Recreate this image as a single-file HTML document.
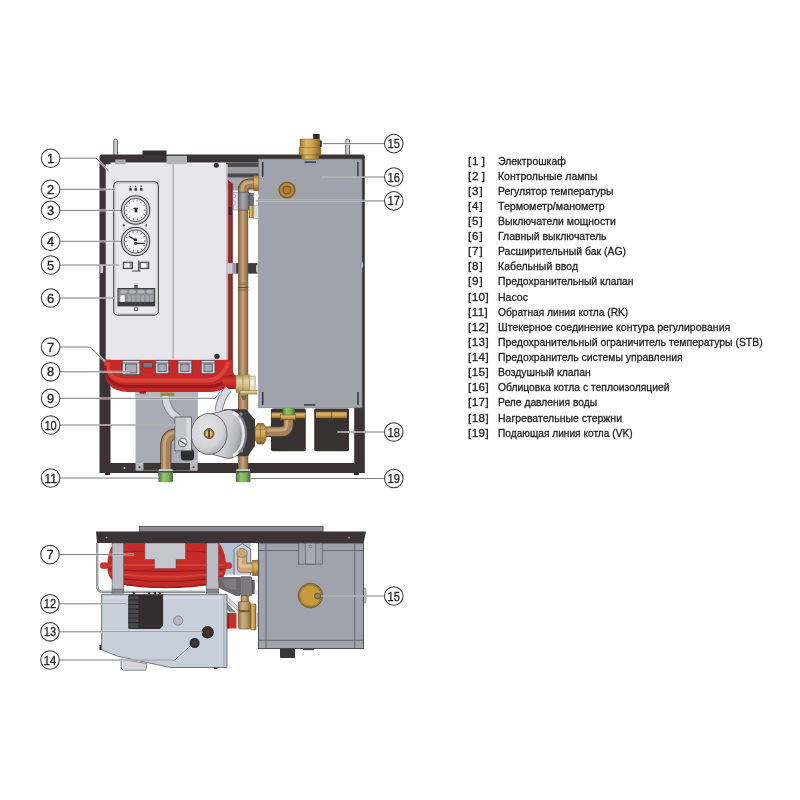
<!DOCTYPE html>
<html lang="ru"><head><meta charset="utf-8"><title>Схема котла</title>
<style>
html,body{margin:0;padding:0;background:#fff;}
body{width:800px;height:800px;position:relative;overflow:hidden;font-family:"Liberation Sans",sans-serif;}
svg{position:absolute;left:0;top:0;will-change:transform;}
.lg{will-change:transform;position:absolute;left:0;top:0;width:800px;height:800px;color:#1c1c1c;-webkit-text-stroke:0.3px #1c1c1c;font-size:11.6px;line-height:14px;}
.lg div{position:absolute;white-space:nowrap;height:14px;}
.lg span{display:inline-block;transform-origin:0 50%;white-space:nowrap;}
</style></head><body>
<svg width="800" height="800" viewBox="0 0 800 800" font-family="Liberation Sans, sans-serif">
<defs>
  <linearGradient id="cuV" x1="0" x2="1" y1="0" y2="0">
    <stop offset="0" stop-color="#6e5236"/><stop offset="0.12" stop-color="#9a7650"/><stop offset="0.45" stop-color="#c0a17a"/><stop offset="0.8" stop-color="#a0805a"/><stop offset="1" stop-color="#6a5238"/>
  </linearGradient>
  <linearGradient id="cuH" x1="0" x2="0" y1="0" y2="1">
    <stop offset="0" stop-color="#6e5236"/><stop offset="0.12" stop-color="#9a7650"/><stop offset="0.45" stop-color="#c0a17a"/><stop offset="0.8" stop-color="#a0805a"/><stop offset="1" stop-color="#6a5238"/>
  </linearGradient>
  <linearGradient id="brassV" x1="0" x2="1" y1="0" y2="0">
    <stop offset="0" stop-color="#9a7430"/><stop offset="0.3" stop-color="#dcb866"/><stop offset="0.6" stop-color="#cda351"/><stop offset="1" stop-color="#8a6626"/>
  </linearGradient>
  <linearGradient id="brassH" x1="0" x2="0" y1="0" y2="1">
    <stop offset="0" stop-color="#9a7430"/><stop offset="0.3" stop-color="#dcb866"/><stop offset="0.6" stop-color="#cda351"/><stop offset="1" stop-color="#8a6626"/>
  </linearGradient>
  <linearGradient id="greenV" x1="0" x2="1" y1="0" y2="0">
    <stop offset="0" stop-color="#47703f"/><stop offset="0.35" stop-color="#93c76e"/><stop offset="0.7" stop-color="#7aad58"/><stop offset="1" stop-color="#456b3f"/>
  </linearGradient>
  <linearGradient id="redU" x1="0" x2="0" y1="0" y2="1">
    <stop offset="0" stop-color="#b01d24"/><stop offset="0.5" stop-color="#d32a30"/><stop offset="1" stop-color="#8c161b"/>
  </linearGradient>
  <radialGradient id="pumpFace" cx="0.4" cy="0.35" r="0.7">
    <stop offset="0" stop-color="#e6e6e9"/><stop offset="0.7" stop-color="#d2d2d6"/><stop offset="1" stop-color="#a9aab0"/>
  </radialGradient>
  <linearGradient id="redEl" x1="0" x2="0" y1="0" y2="1">
    <stop offset="0" stop-color="#a8231f"/><stop offset="0.35" stop-color="#d23a2e"/><stop offset="0.7" stop-color="#c42a27"/><stop offset="1" stop-color="#8e1e1c"/>
  </linearGradient>
  <linearGradient id="pumpBody" x1="0" x2="1" y1="0" y2="0.35">
    <stop offset="0" stop-color="#d9d9dc"/><stop offset="0.55" stop-color="#cfcfd3"/><stop offset="0.85" stop-color="#b4b5bb"/><stop offset="1" stop-color="#8f9096"/>
  </linearGradient>
  <linearGradient id="swCyl" x1="0" x2="1" y1="0" y2="0">
    <stop offset="0" stop-color="#77757f"/><stop offset="0.45" stop-color="#a9a7b0"/><stop offset="1" stop-color="#716f79"/>
  </linearGradient>
  <linearGradient id="paleBrassH" x1="0" x2="0" y1="0" y2="1">
    <stop offset="0" stop-color="#a8965c"/><stop offset="0.3" stop-color="#e2d2a0"/><stop offset="0.65" stop-color="#cfbc84"/><stop offset="1" stop-color="#9a8850"/>
  </linearGradient>
  <linearGradient id="tanV" x1="0" x2="1" y1="0" y2="0">
    <stop offset="0" stop-color="#8a6c44"/><stop offset="0.35" stop-color="#cdb080"/><stop offset="0.7" stop-color="#b89a68"/><stop offset="1" stop-color="#806440"/>
  </linearGradient>
</defs>
<rect width="800" height="800" fill="#fff"/>
<!--TOP-->
<g id="top">
<!-- rods on top -->
<rect x="113.7" y="139" width="3.8" height="17" rx="1.6" fill="#c9c9cc" stroke="#4a4446" stroke-width="0.8"/>
<rect x="345.7" y="139" width="3.8" height="17" rx="1.6" fill="#c9c9cc" stroke="#4a4446" stroke-width="0.8"/>
<!-- frame -->
<path d="M101.5 154.5H362.8Q364.8 154.5 364.8 156.5V473H99.5V156.5Q99.5 154.5 101.5 154.5Z M110.5 162.5V463H354.2V162.5Z" fill="#3b3335" fill-rule="evenodd"/>
<rect x="105" y="473" width="5" height="2" fill="#2a2526"/>
<rect x="353.8" y="473" width="5" height="2" fill="#2a2526"/>
<rect x="142.5" y="150.5" width="24" height="5" fill="#332c2e"/>
<circle cx="124.5" cy="468" r="1" fill="#ddd"/>
<!-- lower gray panel -->
<rect x="135.5" y="391.5" width="62.3" height="79" fill="#a9acb4"/><rect x="135.5" y="391.5" width="62.3" height="7" fill="#b3b6bd"/>
<path d="M143.5 470V463H190V470Z" fill="#3b3335"/>
<rect x="136.5" y="463" width="6" height="7.5" fill="#b9bac0"/><circle cx="139.5" cy="467.3" r="1.1" fill="#444"/>
<rect x="190" y="460" width="7" height="10.5" fill="#b9bac0"/><circle cx="193.5" cy="467.3" r="1.1" fill="#444"/>
<!-- top gray area between box and tank -->
<rect x="226" y="162.5" width="33" height="28" fill="#a6a7ad"/>
<rect x="226" y="162.5" width="33" height="4.5" fill="#4b4b50"/>
<rect x="226" y="167" width="33" height="6.4" fill="#9c9da3"/>
<rect x="226" y="173.4" width="33" height="4" fill="#4b4b50"/>
<!-- bracket mid -->
<rect x="236" y="263.1" width="21.6" height="10.5" fill="#3d3a3c"/>
<ellipse cx="257.4" cy="268.4" rx="1.4" ry="4" fill="#c9cacf"/>
<rect x="232.5" y="263.6" width="3.8" height="9.5" fill="#9a9aa8" stroke="#4f4f58" stroke-width="0.5"/>
<!-- tank -->
<rect x="258.6" y="159" width="103.4" height="248.8" fill="#a0a3ab" stroke="#7d7e85" stroke-width="0.6"/>
<rect x="304.5" y="161.4" width="11.5" height="1.3" fill="#2d2d30"/>
<rect x="304" y="404.3" width="11.5" height="1.3" fill="#2d2d30"/>
<rect x="357.3" y="162" width="1.3" height="15" fill="#2d2d30"/>
<rect x="262" y="162" width="1.4" height="15" fill="#2d2d30"/>
<rect x="357.3" y="392" width="1.4" height="13" fill="#2d2d30"/>
<rect x="262" y="392" width="1.4" height="13" fill="#2d2d30"/>
<ellipse cx="362" cy="265" rx="1.2" ry="3.5" fill="#c9c9cf" stroke="#55565b" stroke-width="0.4"/>
<!-- brass sensor on tank -->
<circle cx="287" cy="190" r="8.6" fill="#7a5a22"/>
<circle cx="287" cy="190" r="7" fill="#b98e3d"/>
<circle cx="287" cy="190" r="4.6" fill="#7a5320"/>
<circle cx="287" cy="190" r="3.2" fill="#b5793a"/>
<!-- air valve -->
<rect x="313.2" y="134" width="6.4" height="5.6" fill="#2b2728"/>
<rect x="300" y="139" width="20.2" height="9.6" rx="1" fill="url(#brassV)" stroke="#7d5d22" stroke-width="0.5"/>
<rect x="299.2" y="147.5" width="21.6" height="7.6" rx="1" fill="url(#brassV)" stroke="#7d5d22" stroke-width="0.5"/>
<rect x="301.3" y="155" width="17.6" height="4" fill="url(#brassV)" stroke="#7d5d22" stroke-width="0.5"/>
<rect x="320" y="140.5" width="1.8" height="6.5" fill="#3a3030"/>
<!-- heating rods -->
<rect x="271" y="408.5" width="34.8" height="42.8" rx="1.8" fill="#383132"/>
<rect x="314.2" y="408.5" width="34.8" height="42.8" rx="1.8" fill="#383132"/>
<rect x="271.6" y="412.3" width="33.6" height="5.9" fill="url(#brassH)"/>
<rect x="316" y="411.6" width="30.8" height="6.6" fill="url(#brassH)"/><rect x="331.3" y="411.6" width="0.9" height="6.6" fill="#6b4f1a"/>
<!-- vertical copper pipe -->
<rect x="238" y="186" width="10.2" height="284" fill="url(#cuV)"/>
<rect x="238" y="282.6" width="10.2" height="0.7" fill="#8a6a48"/><rect x="238" y="284.2" width="10.2" height="0.7" fill="#8a6a48"/><rect x="237.8" y="287" width="10.6" height="1" fill="#6b4c2e"/><rect x="237.8" y="289.6" width="10.6" height="0.8" fill="#7a5a38"/>
<!-- elbow top -->
<path d="M243.3 194 V190 Q243.3 183.6 250 183.6 H256" fill="none" stroke="#5f452c" stroke-width="10.2"/>
<path d="M243.3 194 V190 Q243.3 183.6 250 183.6 H256" fill="none" stroke="#a5825c" stroke-width="8.4"/>
<path d="M242.1 194 V190 Q242.1 182.2 250 182.2 H256" fill="none" stroke="#c4a680" stroke-width="3"/>
<rect x="253.7" y="175.5" width="5" height="15.2" fill="url(#brassH)" stroke="#6b4f1a" stroke-width="0.4"/>
<!-- pressure switch 17 -->
<path d="M233 192.5 H238.4 V210 H233 V205 H235 V201 H233 V197 H235.5 V195 H233Z" fill="#e1e2e6" stroke="#6b6c72" stroke-width="0.5"/>
<rect x="249" y="193.2" width="4.7" height="12.6" fill="#6f6d76" stroke="#4d4a52" stroke-width="0.5"/>
<rect x="238.4" y="192.3" width="10.6" height="17.8" rx="1" fill="url(#swCyl)" stroke="#4d4a52" stroke-width="0.7"/>
<rect x="249" y="205.6" width="4.8" height="12.2" fill="url(#brassV)" stroke="#6b4f1a" stroke-width="0.4"/>
<rect x="253.7" y="194.2" width="5" height="3" fill="#eeeeF0"/>
<rect x="253.7" y="205.8" width="5" height="13" fill="#d9dade" stroke="#8a8b90" stroke-width="0.4"/>
<!-- green caps -->
<rect x="235.8" y="470" width="14.7" height="12.2" rx="1.6" fill="url(#greenV)"/>
<rect x="236.3" y="469.2" width="13.7" height="1.8" fill="#cfcfd0"/><rect x="235.8" y="471" width="14.7" height="1.5" fill="#3f5a3a"/>
<!-- red strip right side of box -->
<path d="M227.6 179.8 L232.8 184 V372 H227.6Z" fill="#7a2a2c"/>
<path d="M227.6 179.8 L230.8 182.4 V372 H227.6Z" fill="#a52b29"/>
<rect x="228.5" y="207" width="3.5" height="8" fill="#5a2226"/>
<rect x="227.8" y="263.4" width="4.5" height="9.8" fill="#cbcbd1" stroke="#f2f2f4" stroke-width="0.5"/>
<!-- red U -->
<path d="M103.8 359.4 H232.6 V368 Q232.6 374 236 375.6 V388.8 H224 Q218 392 210 392 H128 Q104 392 103.8 366 Z" fill="#c42a27"/>
<path d="M107.5 362 V366 Q108 380.5 128 380.5 H206 Q222 380.5 228.5 362" fill="none" stroke="#db4236" stroke-width="4.2"/>
<path d="M105 366 Q105.5 386.5 128 386.5 H208 Q224 386.5 231 375" fill="none" stroke="#9b1a20" stroke-width="3"/>
<rect x="222.5" y="375.6" width="13.5" height="13.2" fill="url(#redEl)"/>
<rect x="139.5" y="391" width="6.5" height="2.8" rx="1.2" fill="#a91d24"/>
<!-- cable glands -->
<g fill="#d2d4db" stroke="#4f4854" stroke-width="0.8">
 <rect x="122.3" y="360.3" width="17.6" height="14.4"/>
 <rect x="155.4" y="360.3" width="13.4" height="13.4"/>
 <rect x="178" y="360.3" width="13.8" height="13.4"/>
 <rect x="201.2" y="360.3" width="13.8" height="13.4"/>
</g>
<g fill="#a9acb8" stroke="#4f4854" stroke-width="0.8">
 <rect x="125.4" y="364" width="11.4" height="9"/>
 <rect x="158" y="364" width="8.2" height="7.4"/>
 <rect x="180.8" y="364" width="8.2" height="7.4"/>
 <rect x="204" y="364" width="8.2" height="7.4"/>
</g>
<g stroke="#4f4854" stroke-width="0.7"><path d="M122.3 363H139.9M155.4 363H168.8M178 363H191.8M201.2 363H215"/></g>
<rect x="143" y="362.6" width="9.4" height="5.2" fill="#77787f" stroke="#4a3a3c" stroke-width="0.6"/>
<!-- brass fitting at red connector -->
<rect x="236" y="375.4" width="7.2" height="17" fill="url(#paleBrassH)" stroke="#8a7a45" stroke-width="0.5"/>
<rect x="243" y="374.6" width="6.6" height="18.6" rx="1" fill="url(#paleBrassH)" stroke="#8a7a45" stroke-width="0.6"/>
<rect x="249.5" y="376" width="5.6" height="15.5" fill="#e4dcc0" stroke="#8a7a45" stroke-width="0.5"/>
<rect x="250.5" y="380" width="3.6" height="5" fill="#f3f1ea"/>
<rect x="240" y="390.5" width="17" height="3.6" fill="url(#paleBrassH)" stroke="#8a7a45" stroke-width="0.4"/>
<path d="M241 395.5 H246.5 L245 400 H242.5Z" fill="#7d6543"/>
<!-- control box -->
<rect x="105.7" y="164.2" width="120.7" height="195.4" fill="#e6e6eb"/>
<rect x="172.6" y="164.2" width="1" height="195.4" fill="#9a9ba0"/>
<rect x="225.9" y="164.2" width="1.8" height="195.4" fill="#c3c4ca"/>
<circle cx="216.3" cy="165.3" r="2.5" fill="#35302f"/>
<circle cx="217" cy="356.3" r="2.6" fill="#35302f"/>
<rect x="115.3" y="159.5" width="10.3" height="4.7" fill="#a9aaaf"/>
<rect x="166.5" y="155.8" width="20.5" height="8.4" fill="#b3b4b9"/>
<rect x="100.3" y="265" width="2.8" height="8" fill="#c9c9ce"/>
<!-- panel -->
<rect x="113.7" y="181.7" width="44.7" height="133.4" rx="4" fill="#eaeaee" stroke="#45464b" stroke-width="1.1"/>
<rect x="115.3" y="183.3" width="41.5" height="130.2" rx="3" fill="none" stroke="#c4c4ca" stroke-width="0.8"/>
<!-- lamps -->
<g fill="#3a3a3e"><rect x="129.3" y="188" width="2.4" height="2.8"/><rect x="134.5" y="188" width="2.4" height="2.8"/><rect x="140.1" y="188" width="2.4" height="2.8"/>
<rect x="129.9" y="185.8" width="1.2" height="1.4"/><rect x="135.1" y="185.8" width="1.2" height="1.4"/><rect x="140.4" y="185.6" width="1.8" height="1.2"/></g>
<!-- gauges -->
<g>
<circle cx="135.6" cy="210" r="14.2" fill="#d9d9dd" stroke="#3d3d42" stroke-width="1.1"/>
<circle cx="135.6" cy="210" r="11.6" fill="#f4f4f6" stroke="#4d4d52" stroke-width="1"/>
<circle cx="135.6" cy="210" r="9.4" fill="none" stroke="#8a8a90" stroke-width="1.8" stroke-dasharray="0.9 3.2"/>
<path d="M133.4 207.8 H138 V209 H137.4 V212.2 H134.6 V209 H133.4Z" fill="#2a2a2d"/>
<circle cx="135.6" cy="241.5" r="14.2" fill="#d9d9dd" stroke="#3d3d42" stroke-width="1.1"/>
<circle cx="135.6" cy="241.5" r="11.6" fill="#f4f4f6" stroke="#4d4d52" stroke-width="1"/>
<circle cx="135.6" cy="241.5" r="9.4" fill="none" stroke="#77777d" stroke-width="1.8" stroke-dasharray="0.9 3.2"/>
<path d="M135.6 239.8 L128.8 236.4 M135.6 243.3 H144.6" stroke="#2a2a2d" stroke-width="1.3" fill="none"/>
<circle cx="135.6" cy="239.8" r="1.5" fill="#2a2a2d"/><circle cx="135.6" cy="243.3" r="1.5" fill="#2a2a2d"/>
<rect x="122.8" y="224.4" width="2" height="2" fill="#444"/><rect x="145.5" y="224.2" width="1.3" height="2.4" fill="#444"/>
</g>
<!-- switches 5 -->
<rect x="123.3" y="262.2" width="9.2" height="6.4" fill="#9a9ba2" stroke="#3d3d42" stroke-width="1"/>
<rect x="124.3" y="263.2" width="5.4" height="4.4" fill="#f6f6f8"/>
<rect x="140" y="262.2" width="8.8" height="6.4" fill="#9a9ba2" stroke="#3d3d42" stroke-width="1"/>
<rect x="141" y="263.2" width="5.4" height="4.4" fill="#f6f6f8"/>
<path d="M138.7 260.5 V271 M132 271 H140.6" stroke="#3d3d42" stroke-width="1.1" fill="none"/>
<!-- main breaker 6 -->
<rect x="117.4" y="288" width="37.8" height="18.4" fill="#3c3c41"/>
<rect x="118.4" y="289.2" width="35.8" height="12.6" fill="#8d8e96"/>
<g fill="#b4b5bc" stroke="#6b6c72" stroke-width="0.4"><ellipse cx="123.6" cy="291.8" rx="4" ry="2.3"/><ellipse cx="132.4" cy="291.8" rx="4" ry="2.3"/><ellipse cx="141" cy="291.8" rx="4" ry="2.3"/><ellipse cx="149.6" cy="291.8" rx="4" ry="2.3"/></g>
<g fill="#a4a5ac"><rect x="127.6" y="295.4" width="3.2" height="6.4"/><rect x="132" y="295.4" width="3.2" height="6.4"/><rect x="136.6" y="295.4" width="3.2" height="6.4"/><rect x="141" y="295.4" width="3.2" height="6.4"/><rect x="145.6" y="295.4" width="3.2" height="6.4"/><rect x="150" y="295.4" width="3" height="6.4"/></g>
<rect x="120.3" y="295.4" width="4.4" height="6.6" fill="#f7f7f8"/>
<rect x="134.3" y="285" width="3.4" height="3" fill="#55565b"/>
<rect x="134.5" y="307.8" width="3.2" height="2.6" fill="#fff" stroke="#3d3d42" stroke-width="0.8"/>
<!-- translucent tubes -->
<path d="M165.5 396 Q166 411 179 418.5" fill="none" stroke="#7f8087" stroke-width="8.2"/>
<path d="M165.5 396 Q166 411 179 418.5" fill="none" stroke="#d6d9df" stroke-width="6.4"/>
<path d="M228.5 389 Q220.5 397 218.5 411" fill="none" stroke="#7f8087" stroke-width="8.2"/>
<path d="M228.5 389 Q220.5 397 218.5 411" fill="none" stroke="#d6d9df" stroke-width="6.4"/>
<rect x="160.5" y="392.6" width="14" height="3.4" fill="#a9832f"/>
<!-- pump: left pipe -->
<path d="M165.8 470 V446 Q165.8 434.2 176 434.2 H177" fill="none" stroke="#5f452c" stroke-width="11.2"/>
<path d="M165.8 470 V446 Q165.8 434.2 176 434.2 H177" fill="none" stroke="#a5825c" stroke-width="9.4"/>
<path d="M164.4 470 V446 Q164.4 432.6 176 432.6 H177" fill="none" stroke="#c4a680" stroke-width="3"/>
<rect x="158.3" y="470" width="14.8" height="12.2" rx="1.6" fill="url(#greenV)"/>
<rect x="158.8" y="469.2" width="13.8" height="1.8" fill="#cfcfd0"/><rect x="158.3" y="471" width="14.8" height="1.5" fill="#3f5a3a"/>
<!-- pump housing -->
<path d="M224 409.3 H246 L255 419.5 V445.5 L248 456.3 H224Z" fill="#3a3a3f"/>
<circle cx="241" cy="414" r="1.7" fill="#8a8b90"/><circle cx="241.5" cy="451" r="1.7" fill="#8a8b90"/>
<path d="M212 413.8 L228 409.5 A17 24.5 0 0 1 228 458.5 L212 454.2Z" fill="url(#pumpBody)" stroke="#4a4a50" stroke-width="0.8"/>
<path d="M233 412.5 A13.5 22 0 0 1 233 455.5" fill="none" stroke="#f0f0f2" stroke-width="3" opacity="0.9"/>
<path d="M238.5 415.5 A11 19.5 0 0 1 238.5 452.5" fill="none" stroke="#85868d" stroke-width="2.2" opacity="0.8"/>
<ellipse cx="209" cy="434" rx="18" ry="20.5" fill="url(#pumpFace)" stroke="#5d5e64" stroke-width="0.9"/>
<circle cx="209" cy="433.6" r="5" fill="#9a7a34" stroke="#4a3a16" stroke-width="0.7"/>
<circle cx="209" cy="433.6" r="3.2" fill="#d8c48a"/>
<rect x="208.2" y="429.6" width="1.6" height="8" fill="#4a3a16"/>
<!-- pump control box -->
<rect x="180.8" y="449" width="13.2" height="11.6" rx="3.5" fill="#2e2e32"/>
<rect x="174.8" y="417" width="16.6" height="33.8" fill="#c3c4ca" stroke="#55565b" stroke-width="0.8"/>
<rect x="186.5" y="418" width="4.5" height="32" fill="#d9dade"/>
<circle cx="182.7" cy="442.5" r="4.2" fill="#e4e4e7" stroke="#55565b" stroke-width="0.8"/>
<path d="M179.6 440.6 L185.8 444.4" stroke="#55565b" stroke-width="1.2"/>
<!-- right copper elbow from pump to rod -->
<path d="M264 431.7 H280.5 Q288.4 431.7 288.4 424 V413" fill="none" stroke="#5f452c" stroke-width="10.6"/>
<path d="M264 431.7 H280.5 Q288.4 431.7 288.4 424 V413" fill="none" stroke="#a5825c" stroke-width="8.8"/>
<path d="M264 430.2 H280.5 Q286.9 430.2 286.9 424 V413" fill="none" stroke="#c4a680" stroke-width="2.8"/>
<path d="M255 428 L257.6 423.6 H263.4 L266 428 V439.6 L263.4 444 H257.6 L255 439.6Z" fill="url(#brassH)" stroke="#6b4f1a" stroke-width="0.7"/><path d="M255.3 429.6 H265.7 M255.3 438 H265.7 M260.6 423.8 V443.8" stroke="#7d5d22" stroke-width="0.6" fill="none"/>
<rect x="280.7" y="414.4" width="15" height="5.4" fill="url(#brassH)" stroke="#6b4f1a" stroke-width="0.5"/>
<rect x="282.3" y="408" width="12.6" height="6.6" rx="1" fill="url(#greenV)"/>
</g>
<!--BOTTOM-->
<g id="bottom">
<!-- background bluish panel between -->
<rect x="218.5" y="543" width="32.2" height="31.6" fill="#b5c0d2"/>
<path d="M234 574.6 V549 L242.3 543.6 L250.6 549 V574.6" fill="#c5cfe0" stroke="#5a6a80" stroke-width="0.9"/>
<!-- wire frame -->
<path d="M97.2 543 V586 Q97.2 591.8 103 591.8 H205" fill="none" stroke="#6f7076" stroke-width="2.2"/>
<path d="M97.2 543 V586 Q97.2 591.8 103 591.8 H205" fill="none" stroke="#d5d5da" stroke-width="0.8"/>
<!-- red tank -->
<rect x="100.3" y="562.8" width="8" height="5.6" rx="2" fill="#d0352f" stroke="#8a1a1c" stroke-width="0.5"/>
<rect x="224" y="562.8" width="7.6" height="5.6" rx="2" fill="#d0352f" stroke="#8a1a1c" stroke-width="0.5"/>
<path d="M107.3 566 C107.3 556 110 548 114 543 H219 C223 548 226 556 226 566 C226 576 222 581.5 214 584 C190 588.5 143 588.5 119 584 C111 581.5 107.3 576 107.3 566Z" fill="#c42a27"/>
<path d="M108 569 Q166 574 224.5 569" fill="none" stroke="#8f1a1f" stroke-width="1"/>
<path d="M108 565 H224.5" fill="none" stroke="#e0453d" stroke-width="1.6"/>
<path d="M111 577 Q166 586 221 577" fill="none" stroke="#951b20" stroke-width="1.2"/>
<path d="M109.5 573 Q166 580.5 223 573" fill="none" stroke="#db4236" stroke-width="2.2"/>
<path d="M116 583 Q166 592 216 583" fill="none" stroke="#9b1a20" stroke-width="1.6"/>
<path d="M112 553 Q166 548 220 553" fill="none" stroke="#a51c22" stroke-width="1"/>
<!-- gray T block -->
<path d="M144.8 543 H185.5 V559.5 H176 V568.5 H154.5 V559.5 H144.8Z" fill="#c5c6cc" stroke="#7a3a3a" stroke-width="0.5"/>
<!-- brackets -->
<rect x="112.1" y="543" width="11.6" height="50" fill="#bbbcc3" stroke="#5f6066" stroke-width="0.7"/>
<rect x="112.1" y="589" width="11.6" height="4" fill="#85868c" stroke="#5f6066" stroke-width="0.5"/>
<rect x="206.6" y="543" width="11.8" height="50" fill="#bbbcc3" stroke="#5f6066" stroke-width="0.7"/>
<rect x="206.6" y="589" width="11.8" height="4" fill="#85868c" stroke="#5f6066" stroke-width="0.5"/>
<!-- fittings between -->
<path d="M242 553 V567.8 H254" fill="none" stroke="#8a6c44" stroke-width="10.4" stroke-linejoin="round"/>
<path d="M242 553 V567.8 H254" fill="none" stroke="#c8a878" stroke-width="8.8" stroke-linejoin="round"/>
<path d="M240.6 553 V566.2 H254" fill="none" stroke="#dcc39a" stroke-width="2.8" stroke-linejoin="round"/>
<ellipse cx="242" cy="553" rx="5.1" ry="4.4" fill="#c8a878" stroke="#8a6c44" stroke-width="0.8"/>
<rect x="252.4" y="560.2" width="5.9" height="15.4" fill="url(#brassH)" stroke="#6b4f1a" stroke-width="0.5"/>
<path d="M218.5 577 H240 V596 H236 L219 588 Z" fill="#6a686c"/>
<path d="M222 580 L236 578.5 V590 L226 588Z" fill="#7d7b80"/>
<rect x="240.5" y="576.8" width="11.3" height="19" rx="1.5" fill="#7d7b81" stroke="#45434a" stroke-width="0.7"/>
<rect x="251.8" y="580" width="3" height="14" fill="#5f5d63"/>
<rect x="254.8" y="578.5" width="3.5" height="4" fill="#f1f1f3"/><rect x="254.8" y="590" width="3.5" height="5" fill="#f1f1f3"/>
<path d="M225.5 595.5 L238.5 607 V611 L225.5 600Z" fill="#d9dbe0" stroke="#6b6c72" stroke-width="0.5"/>
<path d="M225 601 L236 612.5 L230 612.5 L225 607Z" fill="#85868c"/>
<rect x="226.9" y="613" width="9.6" height="15.5" fill="#c8302a"/>
<rect x="226.9" y="613" width="2.2" height="15.5" fill="#9a221f"/>
<rect x="241" y="596" width="7.4" height="6" fill="url(#tanV)" stroke="#6b5230" stroke-width="0.5"/>
<rect x="238.2" y="601.5" width="12.4" height="27.5" rx="2.2" fill="url(#tanV)" stroke="#6b5230" stroke-width="0.6"/>
<rect x="238.2" y="610" width="12.4" height="2.2" fill="#7a5e38"/>
<rect x="250.6" y="604" width="5.4" height="26" rx="1" fill="url(#brassV)" stroke="#6b4f1a" stroke-width="0.5"/>
<rect x="256" y="613" width="2.4" height="14" fill="#c9cbd3"/>
<!-- top plate + dark bar -->
<rect x="139.3" y="526.3" width="183.8" height="5.4" fill="#8b8d93" stroke="#3b3b40" stroke-width="0.7"/>
<path d="M96 531.6 H366 L363.6 543.1 H97Z" fill="#3b3335"/>
<circle cx="106.5" cy="537.5" r="0.9" fill="#99999e"/><circle cx="349" cy="537.5" r="0.9" fill="#99999e"/>
<!-- right tank -->
<rect x="363" y="588" width="3" height="15" rx="1.4" fill="#c3c4ca" stroke="#55565b" stroke-width="0.5"/>
<rect x="280" y="648" width="15" height="10" rx="1" fill="#37373b"/>
<rect x="258.4" y="543.1" width="105" height="105.4" fill="#a0a3ab" stroke="#3f4046" stroke-width="0.9"/>
<path d="M266 543.5 V648 M354.6 543.5 V648 M258.6 550.6 H363 M258.6 640.3 H363" fill="none" stroke="#595a61" stroke-width="0.8"/>
<rect x="298.4" y="543.1" width="23.8" height="21" fill="#a0a3ab" stroke="#55565b" stroke-width="0.7"/>
<rect x="305.3" y="543.1" width="10.3" height="21" fill="#a8abb3" stroke="#55565b" stroke-width="0.6"/>
<circle cx="310.4" cy="546.5" r="1.4" fill="none" stroke="#55565b" stroke-width="0.5"/>
<circle cx="310.4" cy="595.6" r="12.3" fill="#9a7a34" stroke="#6b5526" stroke-width="0.8"/>
<circle cx="310.4" cy="595.6" r="10.2" fill="#c79b3b"/>
<circle cx="317.6" cy="596" r="3" fill="#8d8468" stroke="#4f4a3a" stroke-width="0.8"/>
<rect x="303" y="648.5" width="11" height="1.6" fill="#44454a"/>
<!-- control box -->
<rect x="99.4" y="645" width="2.4" height="5" fill="#2e2e32"/>
<path d="M121 659 L146.5 663.5 V668 Q146.5 670.3 144 670.3 H125 Q121 670.3 121 666Z" fill="#d5d6db" stroke="#5f6066" stroke-width="0.7"/>
<path d="M101.6 594.4 H227 V667.5 H170.6 L118 656.3 L101.6 649.7Z" fill="#c7cfda" stroke="#55565b" stroke-width="0.8"/>
<path d="M224 594.4 V667.5" stroke="#85868c" stroke-width="0.7"/>
<path d="M103 598 H222" stroke="#e6e9f0" stroke-width="1.2"/>
<rect x="214" y="667.5" width="3.4" height="1.6" fill="#44454a"/>
<!-- connector -->
<path d="M128.4 594.4 H163.1 V625.5 L160 629 H128.4Z" fill="#322e2f"/>
<rect x="128.4" y="596" width="10" height="32" fill="#46464b"/>
<g stroke="#2a2627" stroke-width="1"><path d="M128.4 600H138.4M128.4 604.5H138.4M128.4 609H138.4M128.4 613.5H138.4M128.4 618H138.4M128.4 622.5H138.4"/></g>
<g fill="#322e2f"><rect x="133" y="592" width="2" height="2.6"/><rect x="148" y="592" width="2" height="2.6"/><rect x="154" y="592" width="2" height="2.6"/><rect x="159" y="592" width="2" height="2.6"/></g>
<circle cx="178.1" cy="620.6" r="4.6" fill="#b9bac0" stroke="#77787d" stroke-width="0.8"/>
<circle cx="207.6" cy="632.3" r="6.2" fill="#2d2a2b"/><circle cx="207.6" cy="632.3" r="3.6" fill="#3b3839"/>
<circle cx="194.6" cy="643.1" r="5" fill="#2d2a2b"/><circle cx="194.6" cy="643.1" r="2.8" fill="#3b3839"/>
</g>
<!--/BOTTOM-->
<!--CALLOUTS-->
<g id="callouts">
<g fill="none" stroke="#ffffff" stroke-width="2.2" opacity="0.7">
<path d="M60 158.2 H96.3 L108.8 171.3"/>
<path d="M60 189.3 H115"/>
<path d="M60 210.4 H121"/>
<path d="M60 241.3 H121"/>
<path d="M60 265 H119"/>
<path d="M60 298 H114"/>
<path d="M60 347 H90 L105 361.5"/>
<path d="M60 371.8 H130"/>
<path d="M60 398.3 H215 L220 392"/>
<path d="M60 425 H175"/>
<path d="M60 478 H158.5"/>
<path d="M384.4 143.6 H323"/>
<path d="M384.4 177 H322"/>
<path d="M384.4 200.9 H256"/>
<path d="M384.4 432 H337.5"/>
<path d="M384.4 478.5 H251"/>
<path d="M59.5 554.5 H134"/>
<path d="M59.5 603.8 H126"/>
<path d="M59.5 631.8 H202.5"/>
<path d="M59.5 660 H175 L190 646"/>
<path d="M384.4 596 H321"/>
</g>
<g fill="none" stroke="#6f6f73" stroke-width="0.9">
<path d="M60 158.2 H96.3 L108.8 171.3"/>
<path d="M60 189.3 H115"/>
<path d="M60 210.4 H121"/>
<path d="M60 241.3 H121"/>
<path d="M60 265 H119"/>
<path d="M60 298 H114"/>
<path d="M60 347 H90 L105 361.5"/>
<path d="M60 371.8 H130"/>
<path d="M60 398.3 H215 L220 392"/>
<path d="M60 425 H175"/>
<path d="M60 478 H158.5"/>
<path d="M384.4 143.6 H323"/>
<path d="M384.4 177 H322"/>
<path d="M384.4 200.9 H256"/>
<path d="M384.4 432 H337.5"/>
<path d="M384.4 478.5 H251"/>
<path d="M59.5 554.5 H134"/>
<path d="M59.5 603.8 H126"/>
<path d="M59.5 631.8 H202.5"/>
<path d="M59.5 660 H175 L190 646"/>
<path d="M384.4 596 H321"/>
</g>
<g fill="#fff" stroke="#3a3a3c" stroke-width="1.05">
<circle cx="50.6" cy="158.2" r="9.3"/>
<circle cx="50.6" cy="189.3" r="9.3"/>
<circle cx="50.6" cy="210.4" r="9.3"/>
<circle cx="50.6" cy="241.3" r="9.3"/>
<circle cx="50.6" cy="265" r="9.3"/>
<circle cx="50.6" cy="298" r="9.3"/>
<circle cx="50.6" cy="347" r="9.3"/>
<circle cx="50.6" cy="371.8" r="9.3"/>
<circle cx="50.6" cy="398.3" r="9.3"/>
<circle cx="50.6" cy="425" r="9.3"/>
<circle cx="50.6" cy="478" r="9.3"/>
<circle cx="393.8" cy="143.6" r="9.3"/>
<circle cx="393.8" cy="177" r="9.3"/>
<circle cx="393.8" cy="200.9" r="9.3"/>
<circle cx="393.8" cy="432" r="9.3"/>
<circle cx="393.8" cy="478.5" r="9.3"/>
<circle cx="50" cy="554.5" r="9.3"/>
<circle cx="50" cy="603.8" r="9.3"/>
<circle cx="50" cy="631.8" r="9.3"/>
<circle cx="50" cy="660" r="9.3"/>
<circle cx="393.8" cy="596" r="9.3"/>
</g>
<g font-size="12.9" fill="#222" stroke="#222" stroke-width="0.3" text-anchor="middle">
<text x="50.6" y="162.7">1</text>
<text x="50.6" y="193.8">2</text>
<text x="50.6" y="214.9">3</text>
<text x="50.6" y="245.8">4</text>
<text x="50.6" y="269.5">5</text>
<text x="50.6" y="302.5">6</text>
<text x="50.6" y="351.5">7</text>
<text x="50.6" y="376.3">8</text>
<text x="50.6" y="402.8">9</text>
<text x="50.6" y="429.5" textLength="12.4" lengthAdjust="spacingAndGlyphs">10</text>
<text x="50.6" y="482.5" textLength="12.4" lengthAdjust="spacingAndGlyphs">11</text>
<text x="393.8" y="148.1" textLength="12.4" lengthAdjust="spacingAndGlyphs">15</text>
<text x="393.8" y="181.5" textLength="12.4" lengthAdjust="spacingAndGlyphs">16</text>
<text x="393.8" y="205.4" textLength="12.4" lengthAdjust="spacingAndGlyphs">17</text>
<text x="393.8" y="436.5" textLength="12.4" lengthAdjust="spacingAndGlyphs">18</text>
<text x="393.8" y="483.0" textLength="12.4" lengthAdjust="spacingAndGlyphs">19</text>
<text x="50" y="559.0">7</text>
<text x="50" y="608.3" textLength="12.4" lengthAdjust="spacingAndGlyphs">12</text>
<text x="50" y="636.3" textLength="12.4" lengthAdjust="spacingAndGlyphs">13</text>
<text x="50" y="664.5" textLength="12.4" lengthAdjust="spacingAndGlyphs">14</text>
<text x="393.8" y="600.5" textLength="12.4" lengthAdjust="spacingAndGlyphs">15</text>
</g>
</g>
</svg>

<div class="lg">
<div style="left:468.0px;top:153.50px"><span class="n" style="letter-spacing:0.9px;word-spacing:-1.9px">[1 ]</span></div>
<div style="left:498.1px;top:153.50px"><span class="t" style="transform:scaleX(0.9020)">Электрошкаф</span></div>
<div style="left:468.0px;top:168.62px"><span class="n" style="letter-spacing:0.9px;word-spacing:-1.9px">[2 ]</span></div>
<div style="left:498.1px;top:168.62px"><span class="t" style="transform:scaleX(0.9000)">Контрольные лампы</span></div>
<div style="left:468.0px;top:183.74px"><span class="n" style="letter-spacing:0.9px">[3]</span></div>
<div style="left:498.1px;top:183.74px"><span class="t" style="transform:scaleX(0.8984)">Регулятор температуры</span></div>
<div style="left:468.0px;top:198.86px"><span class="n" style="letter-spacing:0.9px">[4]</span></div>
<div style="left:498.1px;top:198.86px"><span class="t" style="transform:scaleX(0.9216)">Термометр/манометр</span></div>
<div style="left:468.0px;top:213.98px"><span class="n" style="letter-spacing:0.9px">[5]</span></div>
<div style="left:498.1px;top:213.98px"><span class="t" style="transform:scaleX(0.9000)">Выключатели мощности</span></div>
<div style="left:468.0px;top:229.10px"><span class="n" style="letter-spacing:0.9px">[6]</span></div>
<div style="left:498.1px;top:229.10px"><span class="t" style="transform:scaleX(0.9000)">Главный выключатель</span></div>
<div style="left:468.0px;top:244.22px"><span class="n" style="letter-spacing:0.9px">[7]</span></div>
<div style="left:498.1px;top:244.22px"><span class="t" style="transform:scaleX(0.8989)">Расширительный бак (AG)</span></div>
<div style="left:468.0px;top:259.34px"><span class="n" style="letter-spacing:0.9px">[8]</span></div>
<div style="left:498.1px;top:259.34px"><span class="t" style="transform:scaleX(0.9080)">Кабельный ввод</span></div>
<div style="left:468.0px;top:274.46px"><span class="n" style="letter-spacing:0.9px">[9]</span></div>
<div style="left:498.1px;top:274.46px"><span class="t" style="transform:scaleX(0.8941)">Предохранительный клапан</span></div>
<div style="left:468.0px;top:289.58px"><span class="n" style="letter-spacing:0.45px">[10]</span></div>
<div style="left:498.1px;top:289.58px"><span class="t" style="transform:scaleX(0.9061)">Насос</span></div>
<div style="left:468.0px;top:304.70px"><span class="n" style="letter-spacing:0.45px">[11]</span></div>
<div style="left:498.1px;top:304.70px"><span class="t" style="transform:scaleX(0.8777)">Обратная линия котла (RK)</span></div>
<div style="left:468.0px;top:319.82px"><span class="n" style="letter-spacing:0.45px">[12]</span></div>
<div style="left:498.1px;top:319.82px"><span class="t" style="transform:scaleX(0.9078)">Штекерное соединение контура регулирования</span></div>
<div style="left:468.0px;top:334.94px"><span class="n" style="letter-spacing:0.45px">[13]</span></div>
<div style="left:498.1px;top:334.94px"><span class="t" style="transform:scaleX(0.8980)">Предохранительный ограничитель температуры (STB)</span></div>
<div style="left:468.0px;top:350.06px"><span class="n" style="letter-spacing:0.45px">[14]</span></div>
<div style="left:498.1px;top:350.06px"><span class="t" style="transform:scaleX(0.8995)">Предохранитель системы управления</span></div>
<div style="left:468.0px;top:365.18px"><span class="n" style="letter-spacing:0.45px">[15]</span></div>
<div style="left:498.1px;top:365.18px"><span class="t" style="transform:scaleX(0.9019)">Воздушный клапан</span></div>
<div style="left:468.0px;top:380.30px"><span class="n" style="letter-spacing:0.45px">[16]</span></div>
<div style="left:498.1px;top:380.30px"><span class="t" style="transform:scaleX(0.8907)">Облицовка котла с теплоизоляцией</span></div>
<div style="left:468.0px;top:395.42px"><span class="n" style="letter-spacing:0.45px">[17]</span></div>
<div style="left:498.1px;top:395.42px"><span class="t" style="transform:scaleX(0.8875)">Реле давления воды</span></div>
<div style="left:468.0px;top:410.54px"><span class="n" style="letter-spacing:0.45px">[18]</span></div>
<div style="left:498.1px;top:410.54px"><span class="t" style="transform:scaleX(0.9044)">Нагревательные стержни</span></div>
<div style="left:468.0px;top:425.66px"><span class="n" style="letter-spacing:0.45px">[19]</span></div>
<div style="left:498.1px;top:425.66px"><span class="t" style="transform:scaleX(0.8760)">Подающая линия котла (VK)</span></div>
</div>
</body></html>
